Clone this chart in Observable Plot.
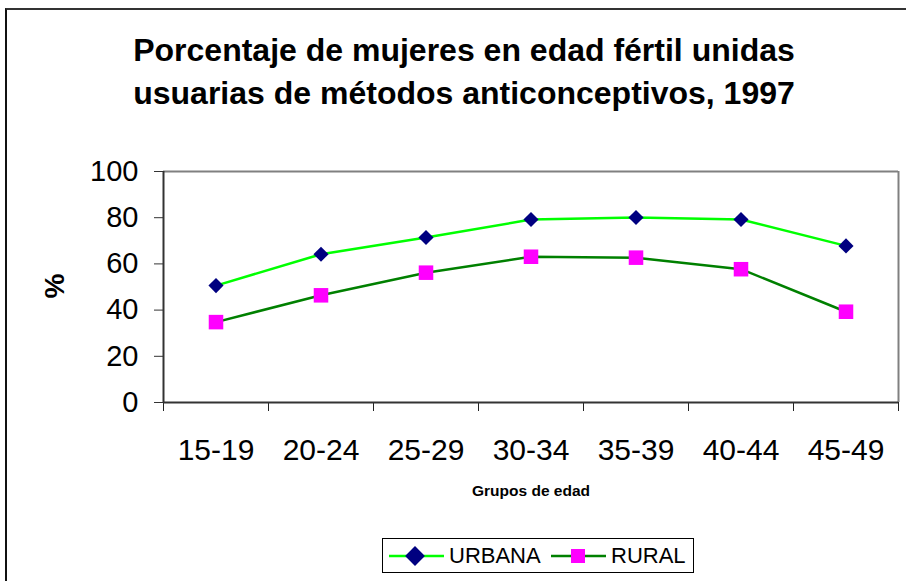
<!DOCTYPE html>
<html><head><meta charset="utf-8">
<script src="https://cdn.jsdelivr.net/npm/d3@7"></script>
<script src="https://cdn.jsdelivr.net/npm/@observablehq/plot@0.6"></script>
<style>
body{margin:0;background:#fff;overflow:hidden;font-family:"Liberation Sans",Arial,sans-serif}
#wrap{position:relative;width:906px;height:581px;overflow:hidden;background:#fff}
#frame{position:absolute;left:5px;top:8px;width:1000px;height:1000px;border-top:2px solid #333;border-left:2px solid #111;box-sizing:border-box}
#chart{position:absolute;left:0;top:0}
.title{position:absolute;left:0;width:928px;text-align:center;font-weight:bold;font-size:32px;line-height:1;color:#000;white-space:nowrap}
#xlab{position:absolute;left:431px;width:200px;text-align:center;top:483px;font-weight:bold;font-size:15.5px;line-height:1}
#ylab{position:absolute;left:55px;top:286px;font-weight:bold;font-size:28px;line-height:1;transform:translate(-50%,-50%) rotate(-90deg);white-space:nowrap}
#legend{position:absolute;left:382px;top:538px;width:312px;height:35px;border:1px solid #000;box-sizing:border-box}
#legend svg{position:absolute;top:0;left:0}
#legend span{position:absolute;top:6px;font-size:22px;line-height:1}
</style></head><body>
<div id="wrap">
<div id="frame"></div>
<div id="chart"></div>
<div class="title" style="top:34px">Porcentaje de mujeres en edad fértil unidas</div>
<div class="title" style="top:77px">usuarias de métodos anticonceptivos, 1997</div>
<div id="ylab">%</div>
<div id="xlab">Grupos de edad</div>
<div id="legend"></div>
</div>
<script>
const categories = ["15-19","20-24","25-29","30-34","35-39","40-44","45-49"];
const urbana = [50.6, 64.2, 71.4, 79.2, 80.1, 79.2, 67.8];
const rural = [34.8, 46.4, 56.2, 63.1, 62.7, 57.7, 39.3];
const yTicks = [0, 20, 40, 60, 80, 100];
const seriesNames = ["URBANA", "RURAL"];

const urbRows = categories.map((c, i) => ({x: i + 0.5, cat: c, v: urbana[i]}));
const rurRows = categories.map((c, i) => ({x: i + 0.5, cat: c, v: rural[i]}));

const plot = Plot.plot({
  width: 906,
  height: 581,
  marginLeft: 163,
  marginRight: 8,
  marginTop: 171,
  marginBottom: 179,
  style: {fontFamily: "Liberation Sans, Arial, sans-serif", background: "transparent", color: "#000"},
  x: {domain: [0, categories.length], axis: null},
  y: {domain: [0, 100], axis: null},
  marks: [
    Plot.ruleY([100], {stroke: "#808080", strokeWidth: 2}),
    Plot.ruleX([categories.length], {stroke: "#808080", strokeWidth: 2}),
    Plot.axisY({ticks: yTicks, tickSize: 9, tickPadding: 16, fontSize: 29, stroke: "#333", fill: "#000", label: null}),
    Plot.axisX({ticks: d3.range(0, categories.length + 1), tickSize: 9, tickFormat: () => "", stroke: "#222", label: null}),
    Plot.axisX({ticks: categories.map((_, i) => i + 0.5), tickSize: 0, tickPadding: 36, tickFormat: d => categories[Math.floor(d)], fontSize: 30, fill: "#000", label: null}),
    Plot.ruleX([0], {stroke: "#333", strokeWidth: 2}),
    Plot.ruleY([0], {stroke: "#333", strokeWidth: 2}),
    Plot.line(urbRows, {x: "x", y: "v", stroke: "#00FF00", strokeWidth: 2.5}),
    Plot.line(rurRows, {x: "x", y: "v", stroke: "#008000", strokeWidth: 2.5}),
    Plot.dot(urbRows, {x: "x", y: "v", symbol: "diamond2", r: 6.8, fill: "#000080", stroke: "none"}),
    Plot.dot(rurRows, {x: "x", y: "v", symbol: "square", r: 8.2, fill: "#FF00FF", stroke: "none"})
  ]
});
document.getElementById("chart").appendChild(plot);

const lg = document.getElementById("legend");
lg.innerHTML = `<svg width="312" height="35">
  <line x1="6" x2="61" y1="17" y2="17" stroke="#00FF00" stroke-width="2.5"/>
  <rect x="25" y="10" width="14" height="14" fill="#000080" transform="rotate(45 32 17)"/>
  <line x1="168" x2="223" y1="17" y2="17" stroke="#008000" stroke-width="2.5"/>
  <rect x="188" y="10" width="14" height="14" fill="#FF00FF"/>
</svg>
<span style="left:66px">${seriesNames[0]}</span>
<span style="left:228px">${seriesNames[1]}</span>`;
</script>
</body></html>
